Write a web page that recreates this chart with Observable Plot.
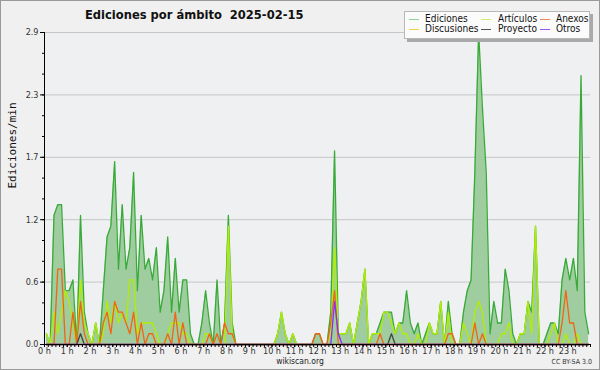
<!DOCTYPE html>
<html><head><meta charset="utf-8">
<script src="https://cdn.jsdelivr.net/npm/d3@7"></script>
<script src="https://cdn.jsdelivr.net/npm/@observablehq/plot@0.6"></script>
<style>
body{margin:0;background:#f0f0f0}
#wrap{position:relative;width:600px;height:370px;background:#f0f0f0;overflow:hidden;font-family:"DejaVu Sans Condensed","DejaVu Sans",sans-serif;color:#111}
#chart{position:absolute;left:0;top:0}
#border{position:absolute;left:0;top:0;width:600px;height:370px;box-sizing:border-box;border:1px solid #9a9a9a;pointer-events:none}
#title{position:absolute;left:85px;top:7px;font-family:"DejaVu Sans Condensed","DejaVu Sans",sans-serif;font-weight:bold;font-size:12.8px;white-space:pre;color:#111}
#legend{position:absolute;left:404px;top:11px;width:184px;height:26px;background:#fbfbfb;border:1px solid #b8b8b8;box-shadow:3px 3px 0 #a9a9a9;font-size:10px}
.it{position:absolute;white-space:nowrap;line-height:11px}
.sw{position:absolute;height:1px;width:10px}
#foot{position:absolute;left:0;width:600px;top:357px;text-align:center;font-size:8.5px;line-height:9px;color:#222}
#cc{position:absolute;right:8px;top:358px;font-size:7px;line-height:8px;color:#333}
</style></head>
<body>
<div id="wrap">
  <div id="chart"></div>
  <div id="title">Ediciones por ámbito  2025-02-15</div>
  <div id="legend"></div>
  <div id="foot">wikiscan.org</div>
  <div id="cc">CC BY-SA 3.0</div>
  <div id="border"></div>
</div>
<script>
// Ediciones/min per 10-minute bucket (144 buckets, 00:00 to 24:00)
const ediciones = [
0.1,0.0,1.2,1.3,1.3,0.5,0.5,0.6,0.0,1.2,0.3,0.1,
0.0,0.2,0.0,0.5,1.0,1.1,1.7,0.7,1.3,0.7,0.9,1.6,
0.5,1.2,0.7,0.8,0.6,0.9,0.3,0.5,1.0,0.3,0.8,0.3,
0.6,0.6,0.1,0.0,0.0,0.2,0.5,0.2,0.0,0.6,0.0,0.2,
1.2,0.2,0.0,0.0,0.0,0.0,0.0,0.0,0.0,0.0,0.0,0.0,
0.0,0.1,0.3,0.1,0.0,0.1,0.0,0.0,0.0,0.0,0.0,0.1,
0.1,0.0,0.0,0.3,1.8,0.1,0.1,0.1,0.2,0.0,0.2,0.4,
0.7,0.0,0.1,0.1,0.2,0.3,0.3,0.3,0.1,0.2,0.2,0.5,
0.2,0.1,0.2,0.0,0.1,0.2,0.1,0.1,0.4,0.0,0.4,0.1,
0.0,0.0,0.3,0.5,0.6,1.6,2.9,2.2,1.6,0.1,0.4,0.2,
0.2,0.7,0.5,0.1,0.0,0.1,0.1,0.4,0.3,1.1,0.0,0.0,
0.1,0.2,0.2,0.1,0.6,0.8,0.6,0.8,0.5,2.5,0.3,0.1];
const articulos = [
0.1,0.0,0.3,0.1,0.3,0.5,0.4,0.2,0.0,0.6,0.2,0.1,
0.0,0.2,0.0,0.1,0.4,0.2,0.4,0.2,0.3,0.2,0.6,0.6,
0.1,0.2,0.2,0.2,0.2,0.1,0.0,0.0,0.1,0.2,0.2,0.2,
0.1,0.1,0.0,0.0,0.0,0.0,0.1,0.1,0.0,0.0,0.0,0.0,
1.1,0.1,0.0,0.0,0.0,0.0,0.0,0.0,0.0,0.0,0.0,0.0,
0.0,0.1,0.3,0.1,0.0,0.1,0.0,0.0,0.0,0.0,0.0,0.0,
0.0,0.0,0.0,0.1,0.9,0.1,0.1,0.1,0.2,0.0,0.2,0.4,
0.7,0.0,0.1,0.1,0.1,0.3,0.3,0.2,0.1,0.2,0.1,0.1,
0.0,0.0,0.1,0.0,0.0,0.2,0.1,0.1,0.4,0.0,0.3,0.0,
0.0,0.0,0.2,0.1,0.0,0.3,0.4,0.3,0.0,0.0,0.0,0.0,
0.1,0.1,0.2,0.0,0.0,0.1,0.1,0.4,0.1,1.1,0.0,0.0,
0.0,0.1,0.2,0.0,0.0,0.1,0.0,0.0,0.1,0.0,0.0,0.0];
const anexos = [
0.0,0.0,0.0,0.7,0.7,0.0,0.0,0.3,0.0,0.4,0.1,0.0,
0.0,0.0,0.0,0.2,0.3,0.1,0.4,0.3,0.3,0.2,0.1,0.3,
0.0,0.2,0.0,0.1,0.1,0.0,0.0,0.0,0.1,0.0,0.3,0.0,
0.2,0.0,0.0,0.0,0.0,0.0,0.0,0.1,0.0,0.1,0.0,0.2,
0.1,0.1,0.0,0.0,0.0,0.0,0.0,0.0,0.0,0.0,0.0,0.0,
0.0,0.0,0.0,0.0,0.0,0.0,0.0,0.0,0.0,0.0,0.0,0.1,
0.1,0.0,0.0,0.2,0.5,0.0,0.0,0.0,0.0,0.0,0.0,0.0,
0.0,0.0,0.0,0.0,0.1,0.0,0.0,0.0,0.0,0.0,0.0,0.0,
0.0,0.0,0.0,0.0,0.0,0.0,0.0,0.0,0.0,0.0,0.1,0.1,
0.0,0.0,0.0,0.0,0.0,0.2,0.0,0.1,0.0,0.0,0.0,0.0,
0.0,0.0,0.0,0.0,0.0,0.0,0.0,0.0,0.0,0.0,0.0,0.0,
0.0,0.0,0.0,0.0,0.2,0.5,0.2,0.2,0.0,0.0,0.0,0.0];
const discusiones = [
0,0,0,0,0,0,0,0,0,0,0,0, 0,0,0,0,0,0,0,0,0,0,0,0,
0,0,0,0,0,0,0,0,0,0,0,0, 0,0,0,0,0,0,0,0,0,0,0,0,
0,0,0,0,0,0,0,0,0,0,0,0, 0,0,0,0,0,0,0,0,0,0,0,0,
0,0,0,0,0,0,0,0,0,0,0,0, 0,0,0,0,0,0,0,0,0,0,0,0,
0,0,0,0,0,0,0,0,0,0,0,0, 0,0,0,0,0,0,0,0,0,0,0,0,
0,0,0,0,0,0,0,0,0,0,0,0, 0,0,0,0,0,0,0,0,0,0,0,0];
const proyecto = [
0,0,0,0,0,0,0,0,0,0.1,0,0, 0,0,0,0,0,0,0,0,0,0,0,0,
0,0,0,0,0,0,0,0,0,0,0,0, 0,0,0,0,0,0,0,0,0,0,0,0,
0,0,0,0,0,0,0,0,0,0,0,0, 0,0,0,0,0,0,0,0,0,0,0,0,
0,0,0,0,0,0,0,0,0,0,0,0, 0,0,0,0,0,0,0,0.1,0,0,0,0,
0,0,0,0,0,0,0,0,0,0,0,0, 0,0,0,0,0,0,0,0,0,0,0,0,
0,0,0,0,0,0,0,0,0,0,0,0, 0,0,0,0,0,0,0,0,0,0,0,0];
const otros = [
0,0,0,0,0,0,0,0,0,0,0,0, 0,0,0,0,0,0,0,0,0,0,0,0,
0,0,0,0,0,0,0,0,0,0,0,0, 0,0,0,0,0,0,0,0,0,0,0,0,
0,0,0,0,0,0,0,0,0,0,0,0, 0,0,0,0,0,0,0,0,0,0,0,0,
0,0,0,0,0.4,0.1,0,0,0,0,0,0, 0,0,0,0,0,0,0,0,0,0,0,0,
0,0,0,0,0,0,0,0,0,0,0,0, 0,0,0,0,0,0,0,0,0,0,0,0,
0,0,0,0,0,0,0,0,0,0,0,0, 0,0,0,0,0,0,0,0,0,0,0,0];

const hourLabels = ["0 h","1 h","2 h","3 h","4 h","5 h","6 h","7 h","8 h","9 h","10 h","11 h","12 h","13 h","14 h","15 h","16 h","17 h","18 h","19 h","20 h","21 h","22 h","23 h"];
const yTicks = [0, 0.58, 1.16, 1.74, 2.32, 2.9];
const seriesNames = ["Ediciones","Artículos","Anexos","Discusiones","Proyecto","Otros"];
const legendColors = ["#8fd68f","#cdee6a","#ef8a55","#f6d24a","#555555","#9a55ee"];
const lineColors = ["#38aa38","#b2ee00","#f26414","#f2c200","#444444","#8a2bff"];

const rows = ediciones.map((v, i) => ({
  t: (i + 0.5) / 6, ed: v, ar: articulos[i], an: anexos[i],
  di: discusiones[i], pr: proyecto[i], ot: otros[i]
}));
const hourTicks = hourLabels.map((_, h) => h);
const minorX = d3.range(0, 24 * 6 + 1).map(k => k / 6);
const minorY = d3.range(0, 16).map(k => k * 2.9 / 15);

const chart = Plot.plot({
  width: 600, height: 370,
  marginLeft: 44, marginRight: 10, marginTop: 32, marginBottom: 26,
  style: {background: "transparent", fontFamily: "'DejaVu Sans Condensed','DejaVu Sans',sans-serif", fontSize: "9px", color: "#222"},
  x: {domain: [0, 24], axis: null, label: null},
  y: {domain: [0, 2.9], axis: null, label: null},
  marks: [
    Plot.frame({fill: "#eef0f2", stroke: null}),
    Plot.gridY(yTicks, {stroke: "#c6c6c6", strokeOpacity: 1}),
    Plot.areaY(rows, {x: "t", y: "ed", fill: "#9fcd9f", fillOpacity: 1}),
    Plot.lineY(rows, {x: "t", y: "ed", stroke: lineColors[0], strokeWidth: 1.3}),
    Plot.lineY(rows, {x: "t", y: "di", stroke: lineColors[3], strokeWidth: 1.3}),
    Plot.lineY(rows, {x: "t", y: "ar", stroke: lineColors[1], strokeWidth: 1.3}),
    Plot.lineY(rows, {x: "t", y: "an", stroke: lineColors[2], strokeWidth: 1.3}),
    Plot.lineY(rows, {x: "t", y: "pr", stroke: lineColors[4], strokeWidth: 1.3}),
    Plot.lineY(rows, {x: "t", y: "ot", stroke: lineColors[5], strokeWidth: 1.3}),
    Plot.ruleY([0], {stroke: "#000"}),
    Plot.ruleX([0], {stroke: "#000"}),
    Plot.axisY(minorY, {tickSize: 2, tickFormat: () => "", stroke: "#000", label: null}),
    Plot.axisY(yTicks, {tickSize: 4, tickPadding: 2, tickFormat: d3.format(".1f"), stroke: "#000", fill: "#333", fontSize: 9, label: null}),
    Plot.axisX(minorX, {tickSize: 3, tickFormat: () => "", stroke: "#000", label: null}),
    Plot.axisX(hourTicks, {tickSize: 3, tickPadding: 0, tickFormat: d => hourLabels[Math.round(d)], stroke: "#000", fill: "#333", fontSize: 9, label: null}),
    Plot.text(["Ediciones/min"], {frameAnchor: "left", dx: -32, rotate: -90, fontFamily: "DejaVu Sans Mono", fontSize: 11, fill: "#111"})
  ]
});
document.getElementById("chart").appendChild(chart);

// legend: 3 columns x 2 rows
const legend = document.getElementById("legend");
const colX = [[4, 20], [76, 93], [135, 151]];
const order = [[0, 0, 0], [1, 0, 1], [2, 0, 2], [3, 1, 0], [4, 1, 1], [5, 1, 2]];
order.forEach(([s, r, c]) => {
  const sw = document.createElement("span");
  sw.className = "sw";
  sw.style.left = colX[c][0] + "px";
  sw.style.top = (7 + r * 10) + "px";
  sw.style.background = legendColors[s];
  legend.appendChild(sw);
  const t = document.createElement("div");
  t.className = "it";
  t.style.left = colX[c][1] + "px";
  t.style.top = (1 + r * 10) + "px";
  t.textContent = seriesNames[s];
  legend.appendChild(t);
});
</script>
</body></html>
